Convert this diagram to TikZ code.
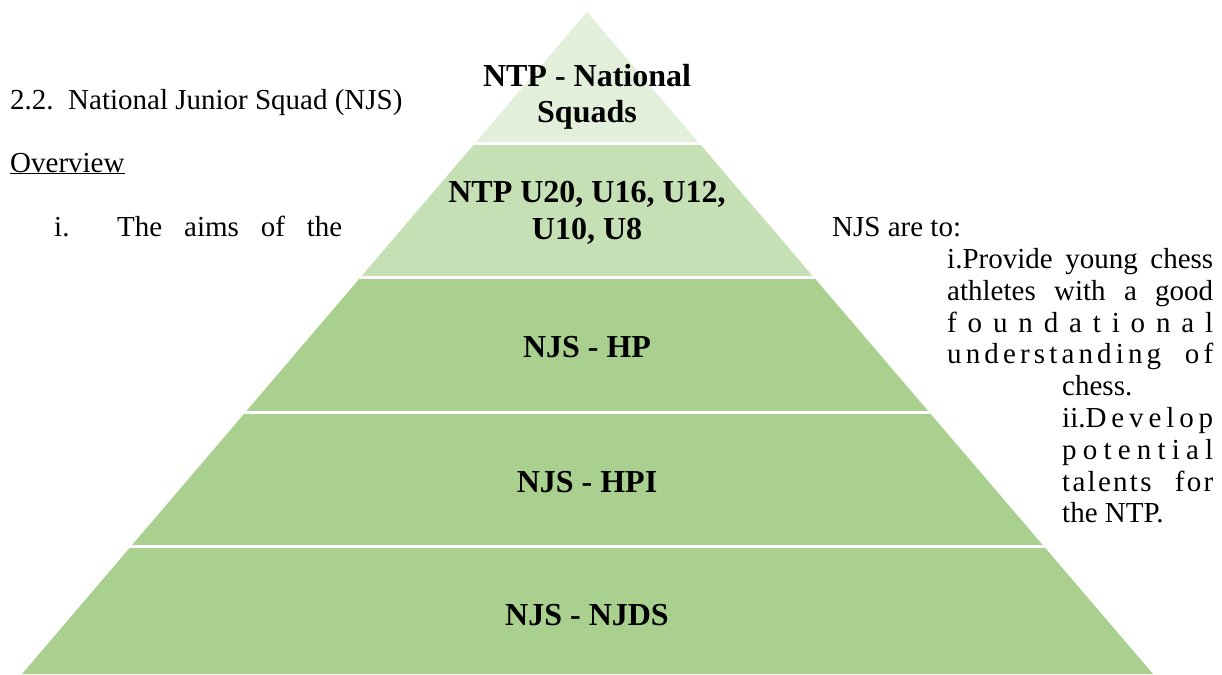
\documentclass[tikz,border=0pt]{standalone}
\usepackage{fontspec}
\setmainfont{Liberation Serif}
\definecolor{pyrA}{HTML}{E2EFDA}
\definecolor{pyrB}{HTML}{C5E0B4}
\definecolor{pyrC}{HTML}{A9D08E}
\newcommand{\wgap}[1]{\hspace{0pt plus #1fil}\ }
\begin{document}
\begin{tikzpicture}[x=1pt,y=-1pt,
  bodytext/.style={inner sep=0pt, anchor=base west, font=\fontsize{29}{32}\selectfont},
  layertext/.style={inner sep=0pt, anchor=base, font=\fontsize{32}{36}\selectfont\bfseries},
  gapline/.style={white, line width=3pt}]
\useasboundingbox (0,0) rectangle (1222,674);
\coordinate (apex) at (587,12);
\coordinate (bl) at (22,674);
\coordinate (br) at (1153,674);
\begin{scope}
  \clip (apex) -- (bl) -- (br) -- cycle;
  \fill[pyrA] (0,0) rectangle (1222,143.5);
  \fill[pyrB] (0,143.5) rectangle (1222,277.5);
  \fill[pyrC] (0,277.5) rectangle (1222,680);
  \draw[gapline] (0,143.5) -- (1222,143.5);
  \draw[gapline] (0,277.5) -- (1222,277.5);
  \draw[gapline] (0,412.5) -- (1222,412.5);
  \draw[gapline] (0,546.5) -- (1222,546.5);
\end{scope}
% pyramid labels
\node[layertext] (t1a) at (587,87) {NTP - National};
\node[layertext] (t1b) at (587,123) {Squads};
\node[layertext] (t2a) at (587,202) {NTP U20, U16, U12,};
\node[layertext] (t2b) at (587,239) {U10, U8};
\node[layertext] (t3) at (587,357) {NJS - HP};
\node[layertext] (t4) at (587,492) {NJS - HPI};
\node[layertext] (t5) at (587,625) {NJS - NJDS};
% left text
\node[bodytext] (head) at (10,110) {2.2.\hspace{14.5pt}National Junior Squad (NJS)};
\node[bodytext] (ov) at (10,172) {\underline{Overview}};
\node[bodytext] (num) at (54,236) {i.};
\node[bodytext] (aims) at (117,236) {\makebox[225pt][s]{The aims of the}};
% right text
\node[bodytext] (are) at (832,236) {NJS are to:};
\node[bodytext] (r1) at (947,268.5) {\makebox[266pt][s]{i.Provide young chess}};
\node[bodytext] (r2) at (947,300.3) {\makebox[266pt][s]{athletes with a good}};
\node[bodytext] (r3) at (947,332.1) {\makebox[266pt][s]{f\hfil o\hfil u\hfil n\hfil d\hfil a\hfil t\hfil i\hfil o\hfil n\hfil a\hfil l}};
\node[bodytext] (r4) at (947,363.9) {\makebox[266pt][s]{u\hfil n\hfil d\hfil e\hfil r\hfil s\hfil t\hfil a\hfil n\hfil d\hfil i\hfil n\hfil g\wgap{4}o\hfil f}};
\node[bodytext] (r5) at (1062,395.7) {chess.};
\node[bodytext] (r6) at (1062,427.5) {\makebox[151pt][s]{ii.D\hfil e\hfil v\hfil e\hfil l\hfil o\hfil p}};
\node[bodytext] (r7) at (1062,459.3) {\makebox[151pt][s]{p\hfil o\hfil t\hfil e\hfil n\hfil t\hfil i\hfil a\hfil l}};
\node[bodytext] (r8) at (1062,491.1) {\makebox[151pt][s]{t\hfil a\hfil l\hfil e\hfil n\hfil t\hfil s\wgap{7}f\hfil o\hfil r}};
\node[bodytext] (r9) at (1062,522.9) {the NTP.};
\end{tikzpicture}
\end{document}
